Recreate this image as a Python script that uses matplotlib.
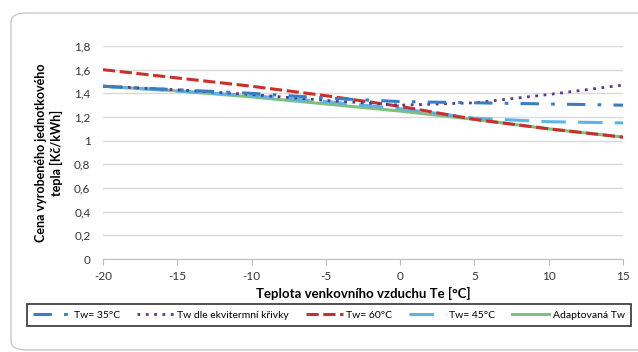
import matplotlib
matplotlib.use("Agg")
import matplotlib.pyplot as plt
from matplotlib.patches import FancyBboxPatch
from matplotlib.ticker import FuncFormatter

plt.rcParams['font.family'] = ['Lato', 'DejaVu Sans']
plt.rcParams['axes.unicode_minus'] = False

# Data
te = [-20, -15, -10, -5, 0, 5, 10, 15]
tw35 = [1.46, 1.43, 1.40, 1.36, 1.33, 1.32, 1.31, 1.30]
tw_ekv = [1.46, 1.43, 1.39, 1.34, 1.30, 1.32, 1.39, 1.47]
tw60 = [1.60, 1.53, 1.46, 1.38, 1.29, 1.18, 1.10, 1.03]
tw45 = [1.46, 1.42, 1.38, 1.33, 1.27, 1.19, 1.16, 1.15]
tw_adapt = [1.46, 1.42, 1.37, 1.31, 1.25, 1.18, 1.10, 1.03]

labels = ["Tw= 35°C", "Tw dle ekvitermní křivky", "Tw= 60°C", "Tw= 45°C", "Adaptovaná Tw"]

fig = plt.figure(figsize=(6.38, 3.52), dpi=100)

# rounded outer frame
frame = FancyBboxPatch((11 / 638, 2 / 352), 700 / 638, 337 / 352,
                       boxstyle="round,pad=0,rounding_size=0.025",
                       transform=fig.transFigure, fill=False,
                       edgecolor="#c8c8c8", linewidth=1.0)
fig.patches.append(frame)

ax = fig.add_axes([103 / 638, 1 - 259 / 352, 520 / 638, 213 / 352])

ax.plot(te, tw_adapt, color="#7fbf7f", lw=2.2, label=labels[4], zorder=3)
ax.plot(te, tw45, color="#5ab4e5", lw=2.2, dashes=(8, 4), label=labels[3], zorder=4)
ax.plot(te, tw60, color="#c9302c", lw=2.2, dashes=(4, 1.5), label=labels[2], zorder=5)
ax.plot(te, tw_ekv, color="#5a3a8a", lw=2.0, dashes=(1, 2), label=labels[1], zorder=6)
ax.plot(te, tw35, color="#3b7cc4", lw=2.2, dashes=(6, 4, 1.2, 4), label=labels[0], zorder=7)

ax.set_xlim(-20, 15)
ax.set_ylim(0, 1.8)
ax.set_xticks(te)
ax.set_yticks([0, 0.2, 0.4, 0.6, 0.8, 1.0, 1.2, 1.4, 1.6, 1.8])
ax.yaxis.set_major_formatter(FuncFormatter(
    lambda v, p: ("%g" % round(v, 1)).replace(".", ",")))
ax.grid(axis="y", color="#d9d9d9", lw=1.0)
ax.set_axisbelow(True)
for s in ["top", "right", "left"]:
    ax.spines[s].set_visible(False)
ax.spines["bottom"].set_color("#bfbfbf")
ax.tick_params(axis="y", length=0, pad=9, labelsize=8.5, colors="#333333")
ax.tick_params(axis="x", length=4, color="#bfbfbf", pad=5, labelsize=8.5, labelcolor="#333333")

ax.set_xlabel("Teplota venkovního vzduchu Te [°C]", fontsize=9.5, fontweight="bold", labelpad=3)
ax.set_ylabel("Cena vyrobeného jednotkového\ntepla [Kč/kWh]", fontsize=9,
              fontweight="bold", labelpad=8, linespacing=1.3)

handles, lbls = ax.get_legend_handles_labels()
order = [4, 3, 2, 1, 0]
leg = fig.legend([handles[i] for i in order], [lbls[i] for i in order],
                 loc="lower left", bbox_to_anchor=(22 / 638, 1 - 331 / 352, 614 / 638, 26 / 352),
                 mode="expand", ncol=5, fontsize=7.5, frameon=True, fancybox=False,
                 handlelength=3.6, handletextpad=0.3, columnspacing=1.0, borderpad=0.6)
leg.get_frame().set_edgecolor("black")
leg.get_frame().set_linewidth(1.2)

fig.savefig("out.png", dpi=100)
